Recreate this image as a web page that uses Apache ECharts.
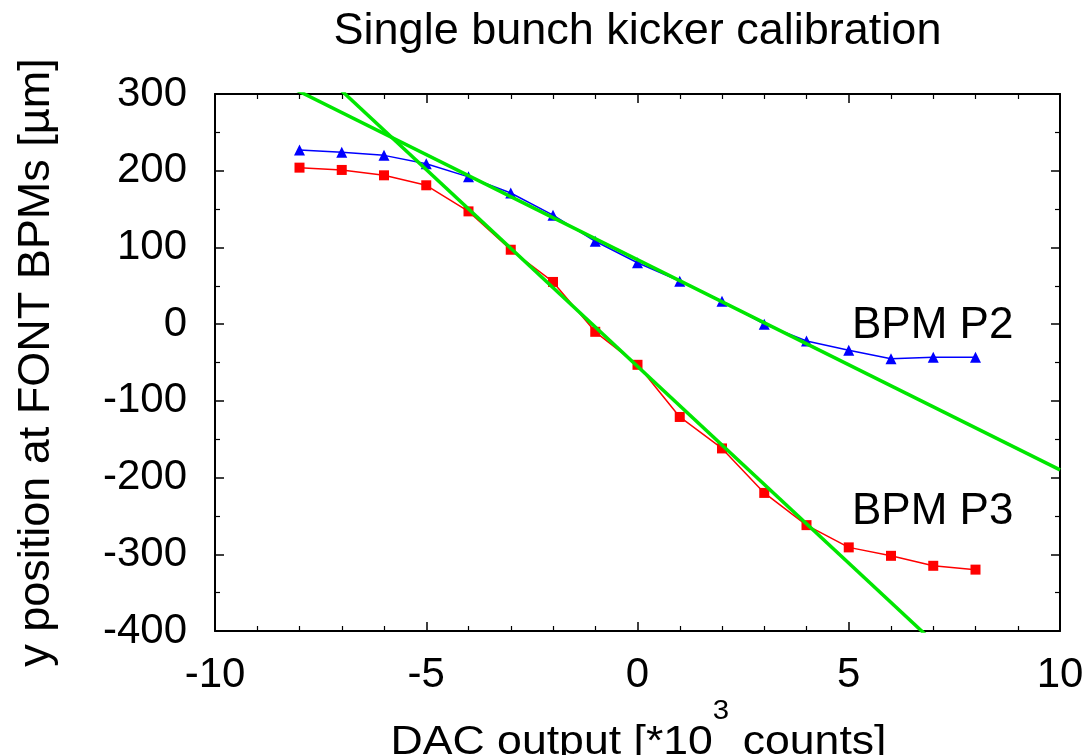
<!DOCTYPE html>
<html>
<head>
<meta charset="utf-8">
<script src="https://cdn.jsdelivr.net/npm/echarts@6/dist/echarts.min.js"></script>
<style>html,body{margin:0;padding:0;background:#fff;}#c{width:1092px;height:755px;}</style>
</head>
<body>
<div id="c"></div>
<script>
// DAC output [*10^3 counts]
var dacValues = [-8, -7, -6, -5, -4, -3, -2, -1, 0, 1, 2, 3, 4, 5, 6, 7, 8];
// BPM P2 y position [um]
var bpmP2 = [227, 224, 220, 209, 192, 171, 142, 108, 80, 56, 30, 0, -22, -34, -45, -43, -43];
// BPM P3 y position [um]
var bpmP3 = [204, 201, 194, 181, 147, 97, 55, -10, -53, -121, -162, -220, -262, -291, -302, -315, -320];
// linear fits: [slope, intercept]
var fitP2 = [-27.4, 84];
var fitP3 = [-51.3, -55];
var xTicks = [-10, -5, 0, 5, 10];
var yTicks = [-400, -300, -200, -100, 0, 100, 200, 300];
var seriesLabels = ['BPM P2', 'BPM P3'];
var titleText = 'Single bunch kicker calibration';
var xNameParts = ['DAC output [*10', '3', ' counts]'];
var yName = 'y position at FONT BPMs [µm]';

function pairs(xs, ys) { return xs.map(function (x, i) { return [x, ys[i]]; }); }
function fitLine(f) { return [xTicks[0], xTicks[xTicks.length - 1]].map(function (x) { return [x, f[0] * x + f[1]]; }); }

var FONT = 'Liberation Sans, Arial, Helvetica, sans-serif';
var fs = 42, fsName = 45, fsX = 41, fsSup = 27, fsTitle = 45, fsText = 44;
var gridL = 215, gridR = 32, gridT = 94, gridB = 124, W = 1092, H = 755;
var plotCx = gridL + (W - gridL - gridR) / 2;

var ctx = document.createElement('canvas').getContext('2d');
function tw(t, size) { ctx.font = size + 'px ' + FONT; return ctx.measureText(t).width; }

var w1 = tw(xNameParts[0], fsX), w2 = tw(xNameParts[1], fsSup) + 1, w3 = tw(xNameParts[2], fsX);
var xNameW = 496;
var sx = xNameW / (w1 + w2 + w3);
var titleW = tw(titleText, fsTitle);

var axisCommon = {
  type: 'value',
  axisLine: { show: true, onZero: false, lineStyle: { color: '#000', width: 2 } },
  axisTick: { show: true, inside: true, length: 9, lineStyle: { color: '#000', width: 1.5 } },
  splitLine: { show: false },
  minorSplitLine: { show: false }
};
function ax(extra) { return Object.assign({}, JSON.parse(JSON.stringify(axisCommon)), extra); }
function minor(n) { return { show: true, splitNumber: n, length: 5, lineStyle: { color: '#000', width: 1.2 } }; }

var chart = echarts.init(document.getElementById('c'), null, { renderer: 'canvas' });
chart.setOption({
  animation: false,
  backgroundColor: '#fff',
  title: {
    text: titleText,
    left: plotCx - titleW / 2 - 5, top: 4,
    textStyle: { fontFamily: FONT, fontSize: fsTitle, fontWeight: 'normal', color: '#000' }
  },
  grid: { left: gridL, right: gridR, top: gridT, bottom: gridB, containLabel: false, outerBoundsMode: 'none' },
  xAxis: [
    ax({
      min: xTicks[0], max: xTicks[xTicks.length - 1], interval: 5, position: 'bottom',
      minorTick: minor(5),
      axisLabel: { fontFamily: FONT, fontSize: fs, color: '#000', margin: 23 }
    }),
    ax({
      min: xTicks[0], max: xTicks[xTicks.length - 1], interval: 5, position: 'top',
      minorTick: minor(5),
      axisLabel: { show: false }
    })
  ],
  yAxis: [
    ax({
      min: yTicks[0], max: yTicks[yTicks.length - 1], interval: 100, position: 'left',
      minorTick: minor(2),
      axisLabel: { fontFamily: FONT, fontSize: fs, color: '#000', margin: 28 },
      name: yName, nameLocation: 'middle', nameGap: 156, nameRotate: 90,
      nameTextStyle: { fontFamily: FONT, fontSize: fsName, color: '#000' }
    }),
    ax({
      min: yTicks[0], max: yTicks[yTicks.length - 1], interval: 100, position: 'right',
      minorTick: minor(2),
      axisLabel: { show: false }
    })
  ],
  series: [
    {
      type: 'line', data: fitLine(fitP2), clip: true, symbol: 'none', silent: true,
      lineStyle: { color: '#00e600', width: 3.5 }, z: 3
    },
    {
      type: 'line', data: fitLine(fitP3), clip: true, symbol: 'none', silent: true,
      lineStyle: { color: '#00e600', width: 3.5 }, z: 3
    },
    {
      type: 'line', name: seriesLabels[0], data: pairs(dacValues, bpmP2),
      symbol: 'triangle', symbolSize: 11,
      itemStyle: { color: '#0000ff' }, lineStyle: { color: '#0000ff', width: 1.5 }, z: 2
    },
    {
      type: 'line', name: seriesLabels[1], data: pairs(dacValues, bpmP3),
      symbol: 'rect', symbolSize: 10,
      itemStyle: { color: '#ff0000' }, lineStyle: { color: '#ff0000', width: 1.5 }, z: 2
    }
  ],
  graphic: [
    { type: 'text', left: 852, top: 304, style: { text: seriesLabels[0], font: fsText + 'px ' + FONT, fill: '#000' } },
    { type: 'text', left: 852, top: 490, style: { text: seriesLabels[1], font: fsText + 'px ' + FONT, fill: '#000' } },
    {
      type: 'group', x: plotCx - xNameW / 2 + 1, y: 0, scaleX: sx, scaleY: 1,
      children: [
        { type: 'text', x: 0, y: 722, style: { text: xNameParts[0], font: fsX + 'px ' + FONT, fill: '#000', verticalAlign: 'top' } },
        { type: 'text', x: w1, y: 698, style: { text: xNameParts[1], font: fsSup + 'px ' + FONT, fill: '#000', verticalAlign: 'top' } },
        { type: 'text', x: w1 + w2, y: 722, style: { text: xNameParts[2], font: fsX + 'px ' + FONT, fill: '#000', verticalAlign: 'top' } }
      ]
    }
  ]
});
</script>
</body>
</html>
